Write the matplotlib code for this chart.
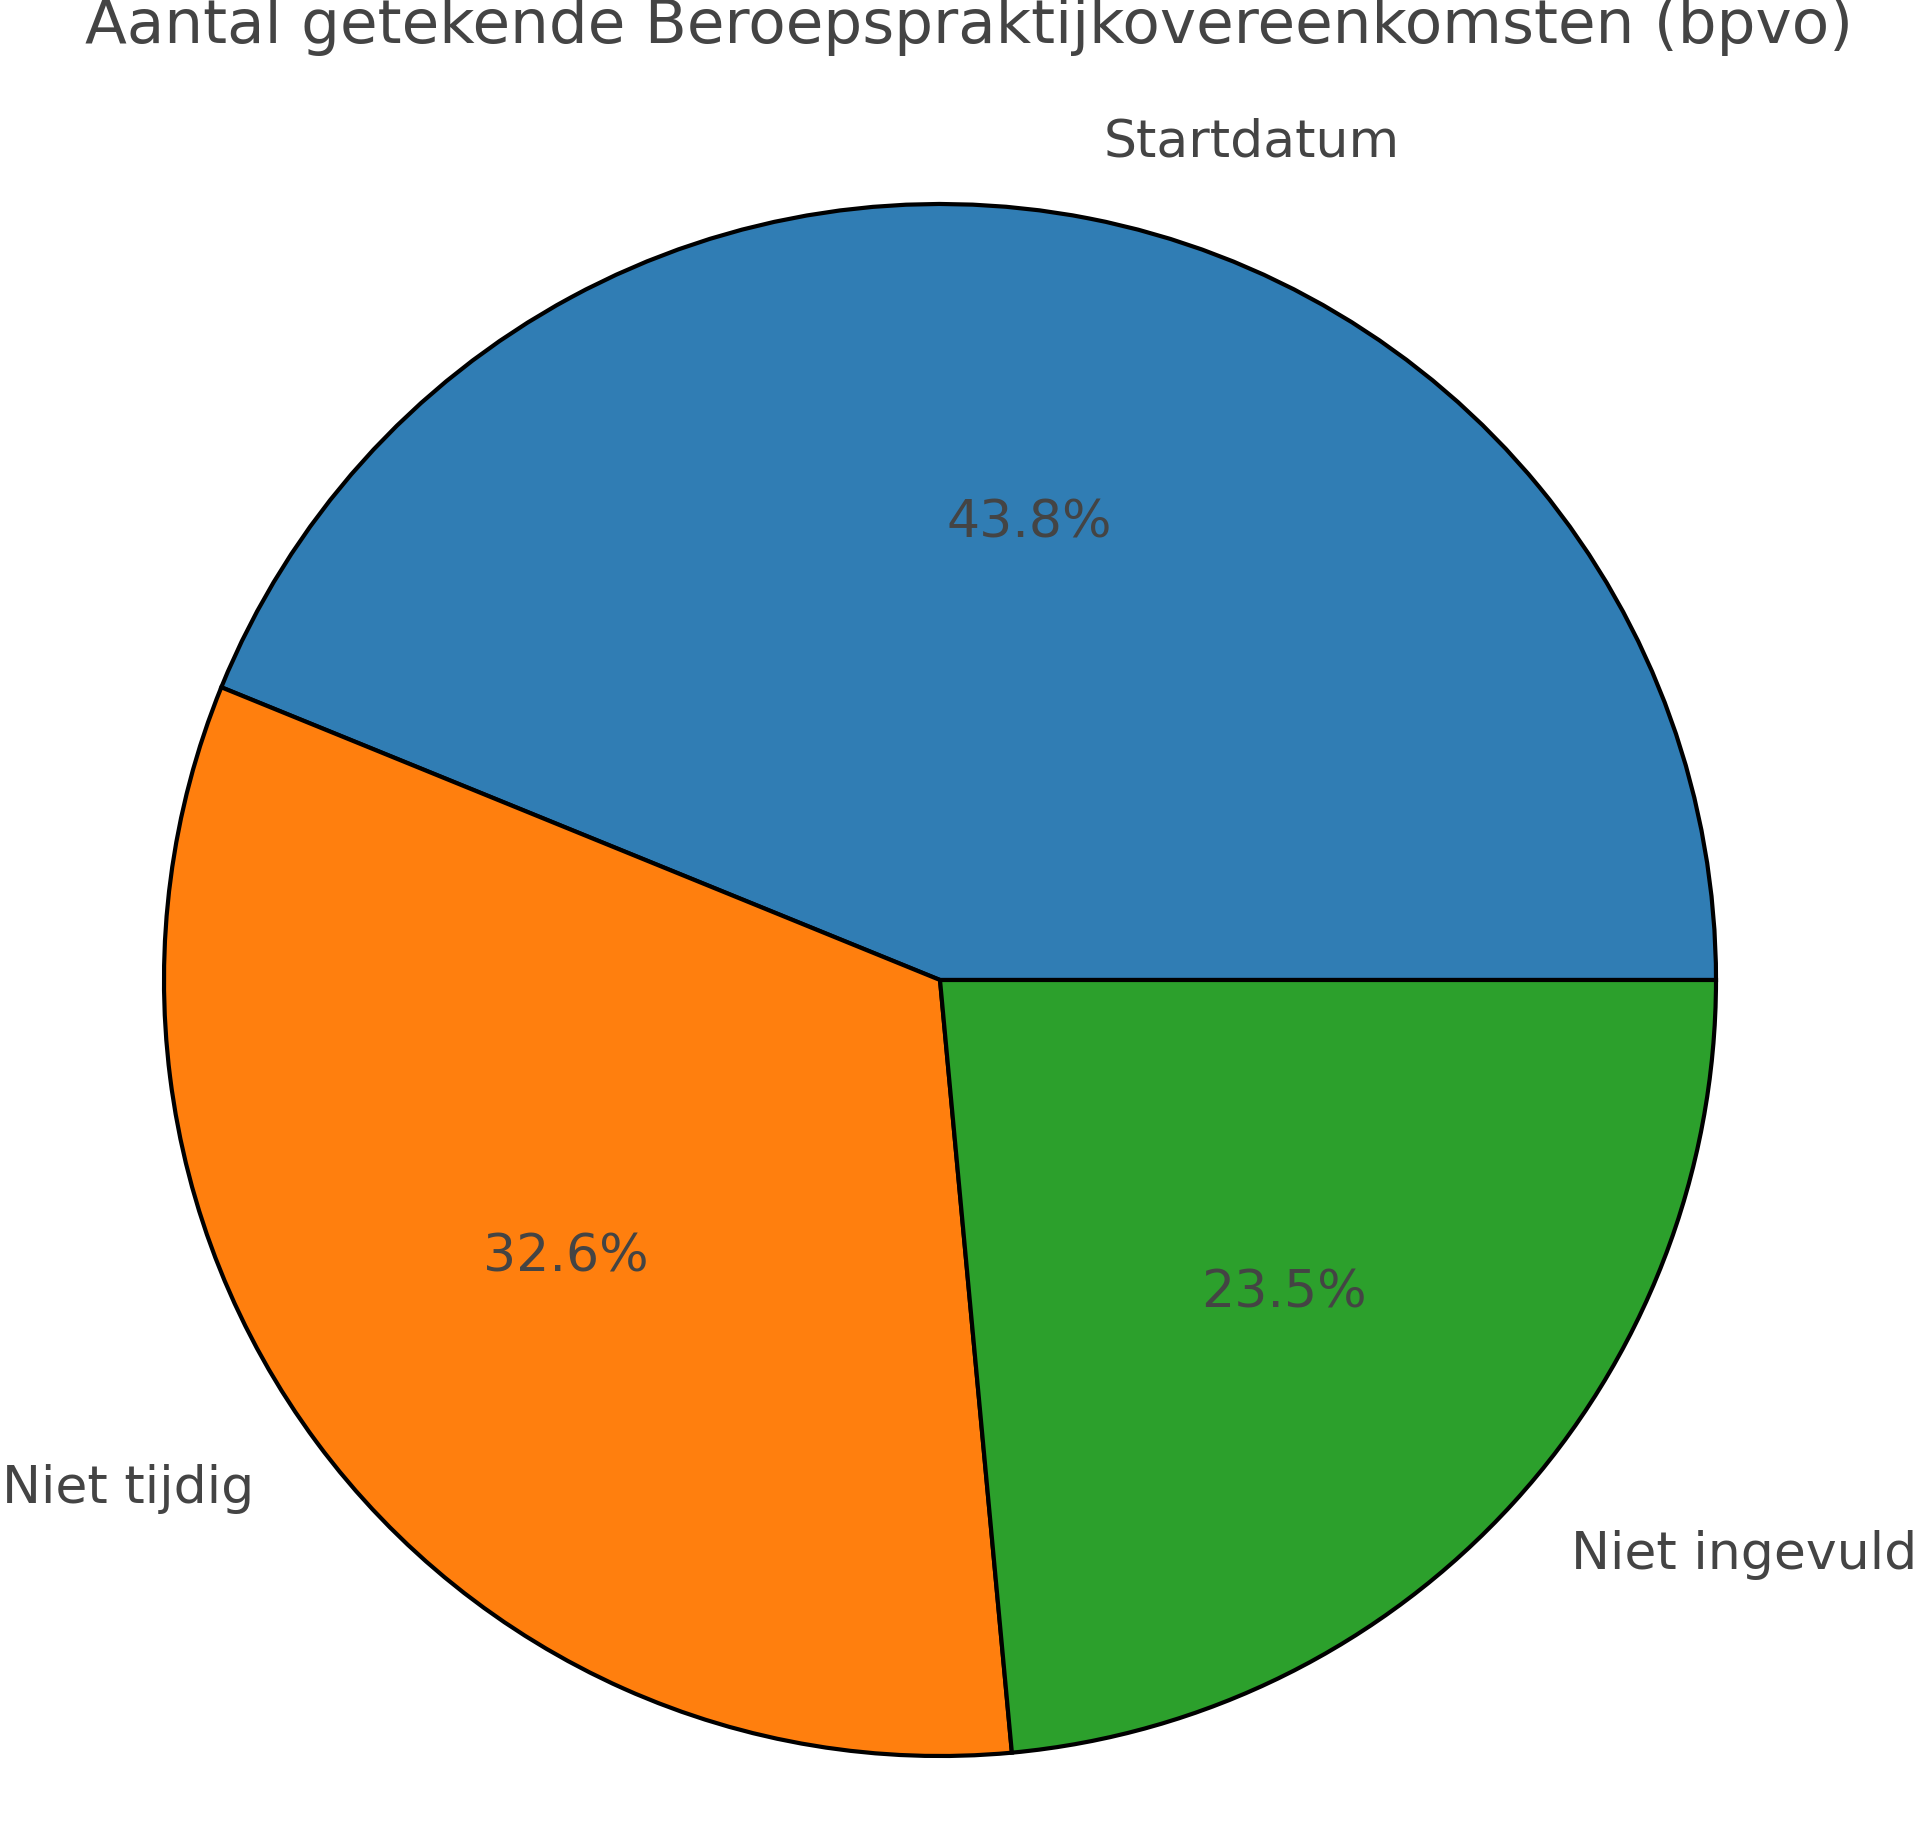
import matplotlib

matplotlib.use("Agg")
import matplotlib.pyplot as plt

# data
categories = ["Startdatum", "Niet tijdig", "Niet ingevuld"]
shares = [43.8, 32.6, 23.5]
colors = ["#307db4", "#ff7f0e", "#2ca02c"]
title = "Aantal getekende Beroepspraktijkovereenkomsten (bpvo)"

TEXT_COLOR = "#444444"
W, H, DPI = 1920, 1829, 300

fig = plt.figure(figsize=(W / DPI, H / DPI), dpi=DPI)

# place the pie: centre and radius in pixels
cx, cy, r = 940, 980, 776
span = 2.5 * r
ax = fig.add_axes([
    (cx - span / 2) / W,
    1 - (cy + span / 2) / H,
    span / W,
    span / H,
])

wedges, texts, autotexts = ax.pie(
    shares,
    labels=categories,
    colors=colors,
    autopct="%1.1f%%",
    startangle=0,
    wedgeprops={"edgecolor": "black", "linewidth": 1},
    textprops={"fontsize": 12.5, "color": TEXT_COLOR},
)
ax.set_xlim(-1.25, 1.25)
ax.set_ylim(-1.25, 1.25)

fig.text(969 / W, 1 - 27 / H, title, ha="center", va="center",
         fontsize=14.7, color=TEXT_COLOR)

fig.savefig("out.png", dpi=DPI)
